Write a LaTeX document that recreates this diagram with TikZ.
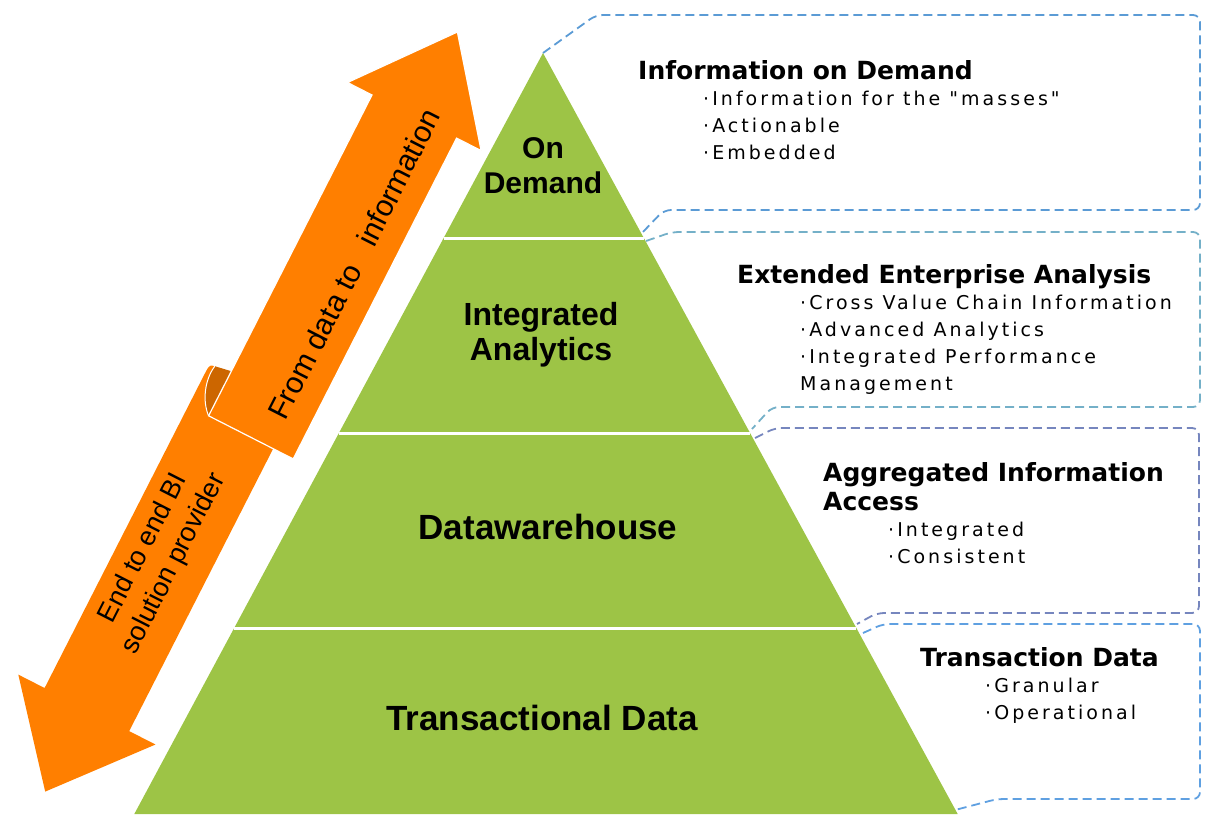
\documentclass[tikz,border=0pt]{standalone}
\usepackage{fontspec}
\setmainfont{Liberation Sans}
\newfontfamily\headfont{DejaVu Sans}
\newfontfamily\itemfont{DejaVu Sans}[LetterSpace=16]
\newfontfamily\pyrfont{Liberation Sans}
\definecolor{pgreen}{RGB}{157,196,70}
\definecolor{aorange}{RGB}{255,127,0}
\definecolor{afold}{RGB}{204,102,0}
\definecolor{cone}{RGB}{91,155,213}
\definecolor{ctwo}{RGB}{116,176,200}
\definecolor{cthree}{RGB}{118,134,190}
\definecolor{cfour}{RGB}{95,160,225}
\tikzset{
  pyr/.style={font=\pyrfont\bfseries, align=center, inner sep=0pt, text=black},
  head/.style={anchor=base west, inner sep=0pt, font=\headfont\bfseries\fontsize{25}{29}\selectfont},
  item/.style={anchor=base west, inner sep=0pt, font=\itemfont\fontsize{19}{27}\selectfont},
  callout/.style={dash pattern=on 9pt off 5pt, line width=1.8pt, rounded corners=7pt},
  sep/.style={white, line width=3pt},
  arrowtext/.style={rotate=63, inner sep=0pt, align=center, text=black}
}
\begin{document}
\begin{tikzpicture}[x=1pt,y=-1pt]
\useasboundingbox (0,0) rectangle (1206,814);

% pyramid
\fill[pgreen] (543,53) -- (957.7,814) -- (134.3,814) -- cycle;
\draw[sep] (443.7,238) -- (643.8,238);
\draw[sep] (338.9,433) -- (750.1,433);
\draw[sep] (234.2,628) -- (856.4,628);

\node[pyr, font=\pyrfont\bfseries\fontsize{30}{35}\selectfont] (l1) at (543,166) {On\\Demand};
\node[pyr, font=\pyrfont\bfseries\fontsize{32}{35}\selectfont] (l2) at (541,335) {Integrated\\Analytics};
\node[pyr, font=\pyrfont\bfseries\fontsize{35}{38}\selectfont] (l3) at (548,527) {Datawarehouse};
\node[pyr, font=\pyrfont\bfseries\fontsize{35}{38}\selectfont] (l4) at (542,718) {Transactional Data};

% callout boxes
\draw[callout, draw=cone] (543,53) -- (596,15) -- (1200,15) -- (1200,210) -- (664,210) -- (641,234);
\draw[callout, draw=ctwo] (646,241) -- (672,232) -- (1200,232) -- (1200,407) -- (772,407) -- (752,429);
\draw[callout, draw=cthree] (755,438) -- (775,428) -- (1199,428) -- (1199,613) -- (877,613) -- (857,624);
\draw[callout, draw=cfour] (863,633) -- (883,624) -- (1200,624) -- (1200,799) -- (997,799) -- (955,810);

% callout texts
\node[head] (h1) at (638,79) {Information on Demand};
\node[item] (b11) at (703,105) {·Information for the "masses"};
\node[item] (b12) at (703,132) {·Actionable};
\node[item] (b13) at (703,159) {·Embedded};

\node[head] (h2) at (737,283) {Extended Enterprise Analysis};
\node[item] (b21) at (800,309) {·Cross Value Chain Information};
\node[item] (b22) at (800,336) {·Advanced Analytics};
\node[item] (b23) at (800,363) {·Integrated Performance};
\node[item] (b24) at (800,390) {Management};

\node[head] (h3) at (823,481) {Aggregated Information};
\node[head] (h3b) at (823,510) {Access};
\node[item] (b31) at (888,536) {·Integrated};
\node[item] (b32) at (888,563) {·Consistent};

\node[head] (h4) at (920,666) {Transaction Data};
\node[item] (b41) at (985,692) {·Granular};
\node[item] (b42) at (985,719) {·Operational};

% double ribbon arrow
\fill[aorange] (44.6,688) -- (18.3,674.6) -- (45.2,791.6) -- (155.5,744.5) -- (129.2,731.1)
  -- (294.5,406.8) -- (221,369.4) .. controls (209.9,363.7) .. (204.4,374.4) -- cycle;
\fill[afold] (214.8,366.2) .. controls (204.4,379.9) and (202.4,401.5) .. (208.6,415.8)
  -- (231.3,371.2) -- cycle;
\draw[white, line width=1pt] (214.8,366.2) .. controls (204.4,379.9) and (202.4,401.5) .. (208.6,415.8);
\fill[aorange, draw=white, line width=1.2pt] (208.6,415.8) -- (372,95) -- (347.5,82.5) -- (457.4,32)
  -- (481.1,150.6) -- (456.6,138.1) -- (293.2,458.9) -- cycle;

\node[arrowtext, font=\fontsize{30}{34}\selectfont] (t1) at (354,264) {From data to\hspace{0.55em} information};
\node[arrowtext, font=\fontsize{27}{34}\selectfont] (t2) at (159,556) {End to end BI\\solution provider};
\end{tikzpicture}
\end{document}
